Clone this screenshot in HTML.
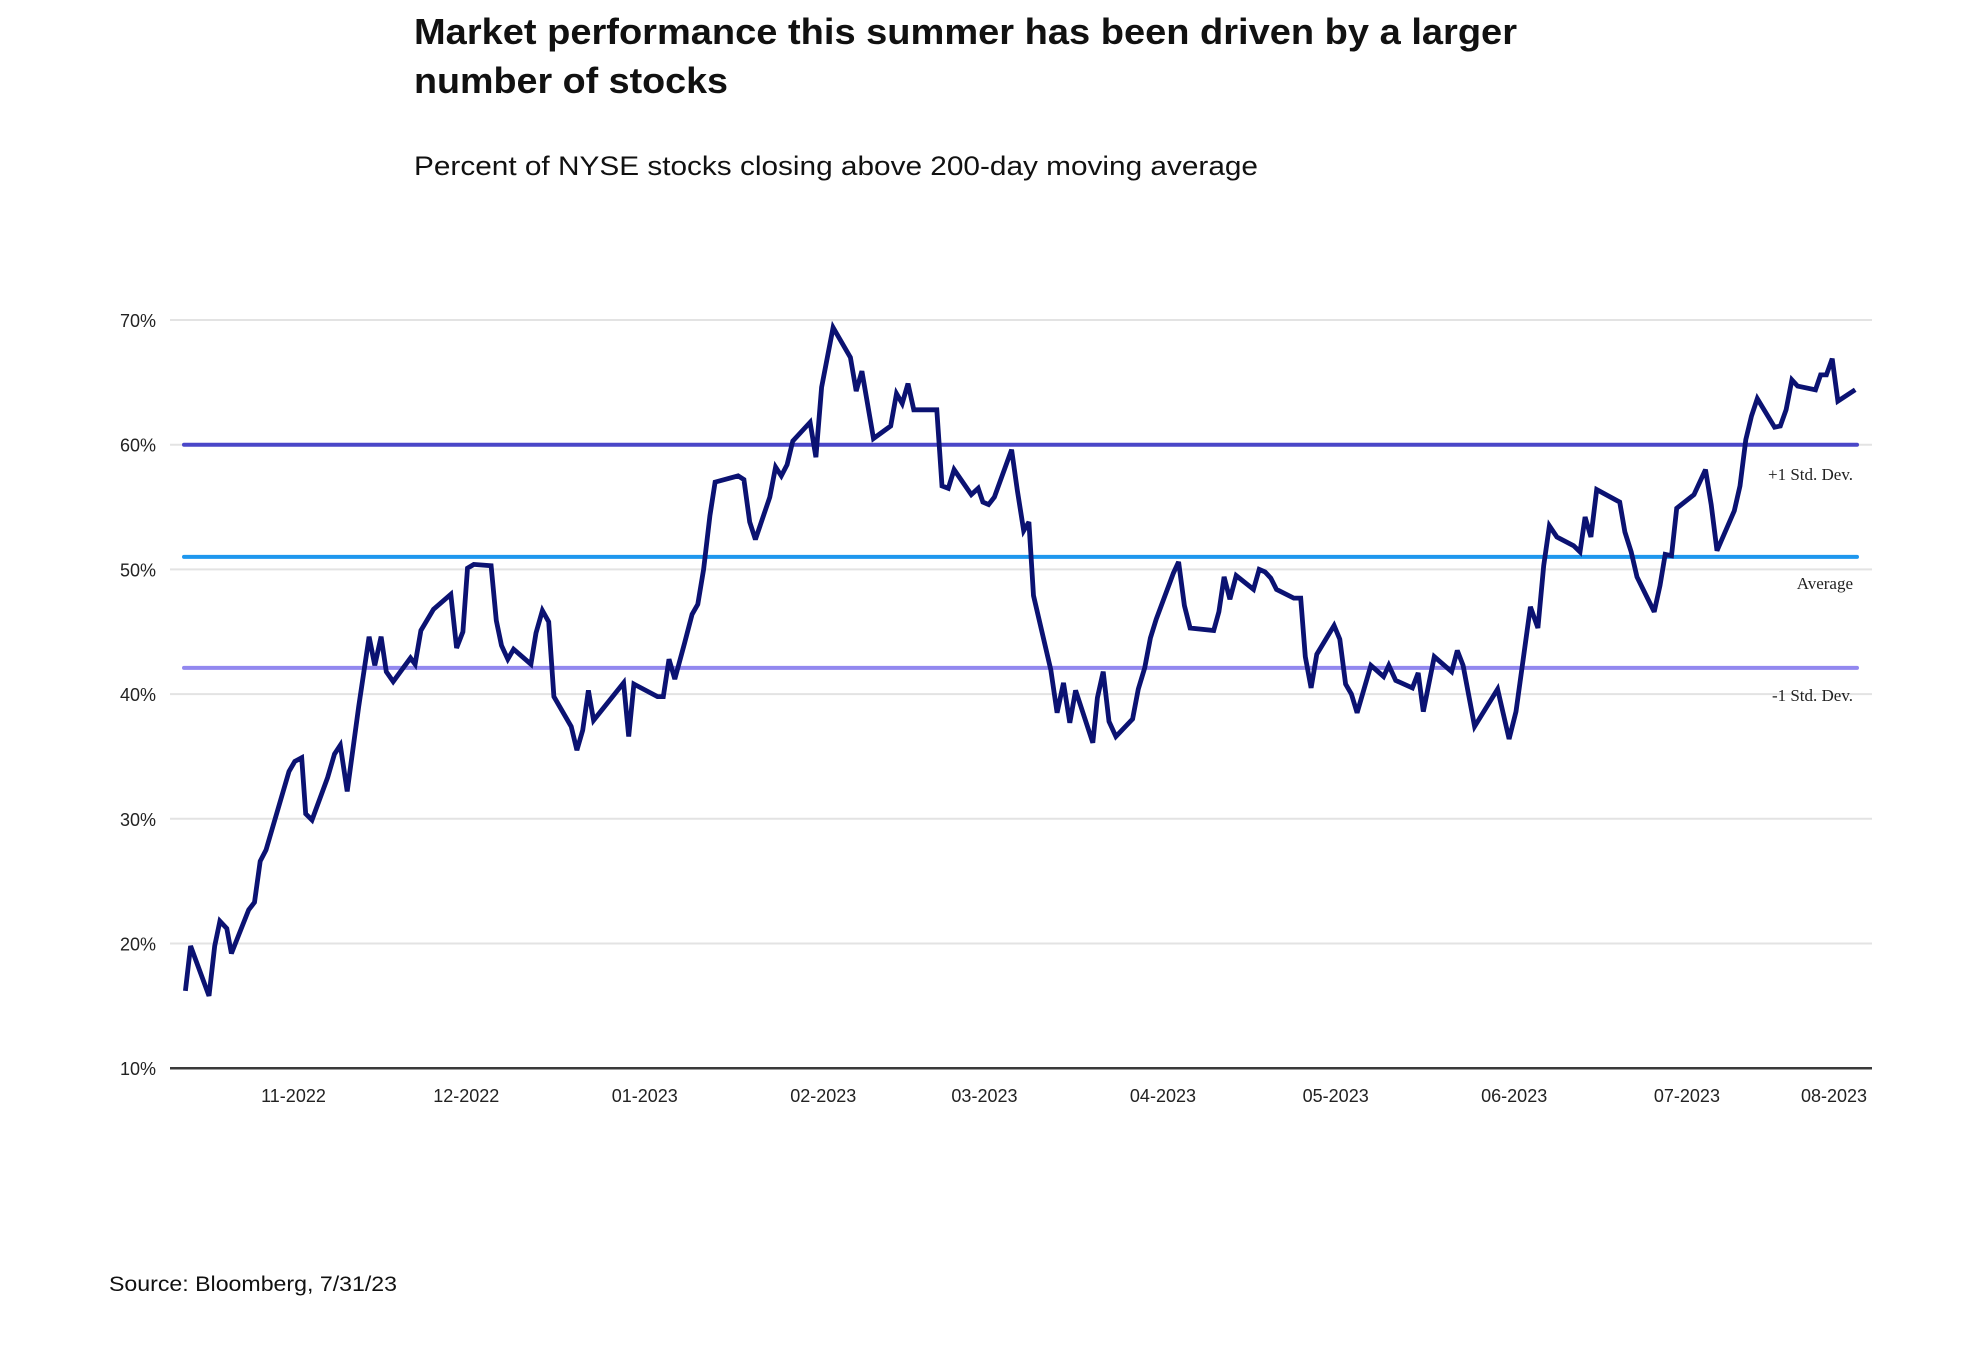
<!DOCTYPE html>
<html><head><meta charset="utf-8"><style>
html,body{margin:0;padding:0;background:#fff;}
svg{display:block;}
</style></head><body>
<svg id="chart" width="1976" height="1356" viewBox="0 0 1976 1356" xmlns="http://www.w3.org/2000/svg">
<text x="414" y="44" textLength="1103" lengthAdjust="spacingAndGlyphs" font-family="Liberation Sans, sans-serif" font-size="36" font-weight="bold" fill="#111">Market performance this summer has been driven by a larger</text>
<text x="414" y="93" textLength="314" lengthAdjust="spacingAndGlyphs" font-family="Liberation Sans, sans-serif" font-size="36" font-weight="bold" fill="#111">number of stocks</text>
<text x="414" y="175" textLength="844" lengthAdjust="spacingAndGlyphs" font-family="Liberation Sans, sans-serif" font-size="27" fill="#111">Percent of NYSE stocks closing above 200-day moving average</text>
<g id="grid"></g>
<g id="refs"></g>
<g id="series"></g>
<g id="axes"></g>
<text x="109" y="1291" textLength="288" lengthAdjust="spacingAndGlyphs" font-family="Liberation Sans, sans-serif" font-size="21" fill="#111">Source: Bloomberg, 7/31/23</text>
</svg>
<script>
const yTicks = [10, 20, 30, 40, 50, 60, 70];
const monthLabels = ["11-2022","12-2022","01-2023","02-2023","03-2023","04-2023","05-2023","06-2023","07-2023","08-2023"];
const monthDays = [0, 30, 61, 92, 120, 151, 181, 212, 242, 273];
const refNames = ["+1 Std. Dev.", "Average", "-1 Std. Dev."];
const refValues = [60.0, 51.0, 42.1];
const days = [-19.3,-18.4,-15.2,-14.2,-13.3,-12.1,-11.3,-8.3,-7.3,-6.3,-5.3,-1.3,-0.3,0.9,1.6,2.7,5.4,6.6,7.6,8.8,10.8,12.6,13.6,14.7,15.6,16.8,19.8,20.6,21.6,23.8,26.8,27.8,28.9,29.7,30.8,33.8,34.7,35.6,36.7,37.7,40.7,41.6,42.7,43.8,44.7,47.7,48.7,49.7,50.7,51.6,56.8,57.7,58.6,62.7,63.7,64.7,65.7,67.4,68.7,69.7,70.7,71.8,72.7,76.7,77.7,78.7,79.7,82.2,83.2,84.2,85.2,86.2,89.2,90.2,91.2,93.2,96.2,97.2,98.2,100.2,103.2,104.2,105.2,106.2,107.2,111.2,112.1,113.2,114.2,117.2,118.4,119.2,120.2,121.2,124.2,125.2,126.3,127.2,128.0,131.0,132.1,133.2,134.3,135.3,138.3,139.1,140.1,141.1,142.3,145.2,146.2,147.3,148.3,149.3,152.3,153.2,154.2,155.2,159.3,160.2,161.1,162.1,163.2,166.2,167.2,168.2,169.2,170.2,173.2,174.4,175.2,176.2,177.2,180.2,181.2,182.2,183.2,184.2,186.6,188.8,189.7,190.9,193.8,194.8,195.7,197.6,200.6,201.6,202.6,204.6,208.6,210.6,211.8,214.3,215.6,216.6,217.6,218.9,221.8,222.9,223.8,224.8,225.8,229.8,230.7,231.8,232.8,235.8,236.8,237.7,238.8,239.7,242.7,244.7,245.7,246.7,249.7,250.7,251.7,252.7,253.7,256.7,257.7,258.7,259.7,260.7,263.8,264.7,265.7,266.7,267.7,270.7];
const values = [16.2,19.8,15.8,19.8,21.8,21.2,19.2,22.7,23.3,26.6,27.5,33.8,34.6,34.9,30.4,29.9,33.3,35.2,35.9,32.2,39.0,44.6,42.3,44.6,41.8,41.0,42.9,42.4,45.1,46.8,48.0,43.7,45.0,50.1,50.4,50.3,45.9,43.9,42.8,43.6,42.4,44.9,46.7,45.8,39.8,37.4,35.5,37.1,40.3,37.9,40.9,36.6,40.8,39.8,39.8,42.8,41.2,44.1,46.4,47.2,50.0,54.3,57.0,57.5,57.2,53.8,52.4,55.8,58.2,57.5,58.4,60.3,61.8,59.0,64.6,69.4,67.0,64.3,65.9,60.5,61.5,64.1,63.3,64.9,62.8,62.8,56.7,56.5,58.0,56.0,56.5,55.4,55.2,55.8,59.6,56.3,53.1,53.8,47.9,41.95,38.5,40.9,37.7,40.3,36.1,39.7,41.8,37.8,36.6,38.0,40.4,42.1,44.5,46.0,49.7,50.6,47.1,45.3,45.1,46.6,49.4,47.6,49.5,48.4,50.0,49.8,49.3,48.4,47.7,47.7,43.0,40.5,43.2,45.5,44.4,40.8,40.0,38.5,42.3,41.4,42.3,41.1,40.5,41.7,38.6,43.0,41.8,43.5,42.3,37.4,40.4,36.4,38.6,47.0,45.3,50.3,53.5,52.6,51.9,51.4,54.2,52.6,56.4,55.4,53.0,51.4,49.4,46.6,48.7,51.2,51.1,54.9,56.0,58.0,55.2,51.5,54.7,56.7,60.4,62.3,63.7,61.4,61.5,62.8,65.2,64.7,64.4,65.6,65.6,66.9,63.5,64.4];

const NS = "http://www.w3.org/2000/svg";
const plotLeft = 170, plotRight = 1872;
function xScale(d){ return 296.5 + 5.758 * d; }
function yScale(v){ return 320 + (70 - v) * 12.47; }
function mk(tag, attrs, parent){ const e = document.createElementNS(NS, tag); for (const k in attrs) e.setAttribute(k, attrs[k]); parent.appendChild(e); return e; }

const grid = document.getElementById('grid');
const axes = document.getElementById('axes');
yTicks.forEach(function(t){
  const y = yScale(t);
  if (t !== 10) {
    const l = mk('line', {x1: plotLeft, x2: plotRight, y1: y, y2: y, stroke: '#e3e3e3', 'stroke-width': 2}, grid);
    
    
  }
  const tx = mk('text', {x: 156, y: y + 7, 'text-anchor': 'end', 'font-family': 'Liberation Sans, sans-serif', 'font-size': 18, fill: '#222'}, axes);
  tx.textContent = t + '%';
  
  
});
const ax = mk('line', {x1: plotLeft, x2: plotRight, y1: yScale(10), y2: yScale(10), stroke: '#3a3a3a', 'stroke-width': 2.5}, axes);


monthLabels.forEach(function(m, i){
  let x = xScale(monthDays[i]) - 3;
  if (x > plotRight - 38) x = plotRight - 38;
  const tx = mk('text', {x: x, y: 1102, 'text-anchor': 'middle', 'font-family': 'Liberation Sans, sans-serif', 'font-size': 18, fill: '#222'}, axes);
  tx.textContent = m;
  
  
});

const refColors = ['#4a47c8', '#1e97ee', '#9288ef'];
const refLabelY = [480, 589, 701];
const refs = document.getElementById('refs');
refValues.forEach(function(v, i){
  const y = yScale(v);
  const l = mk('line', {x1: 184, x2: 1857, y1: y, y2: y, stroke: refColors[i], 'stroke-width': 4, 'stroke-linecap': 'round'}, refs);
  
  
  const t = mk('text', {x: 1853, y: refLabelY[i], 'text-anchor': 'end', 'font-family': 'Liberation Serif, serif', 'font-size': 17, fill: '#222'}, refs);
  t.textContent = refNames[i];
  
  
});

const series = document.getElementById('series');
const pts = days.map(function(d, i){ return xScale(d).toFixed(1) + ',' + yScale(values[i]).toFixed(1); }).join(' ');
const pl = mk('polyline', {points: pts, fill: 'none', stroke: '#0b1272', 'stroke-width': 4.8, 'stroke-linejoin': 'miter', 'stroke-miterlimit': 3}, series);


</script>
</body></html>
